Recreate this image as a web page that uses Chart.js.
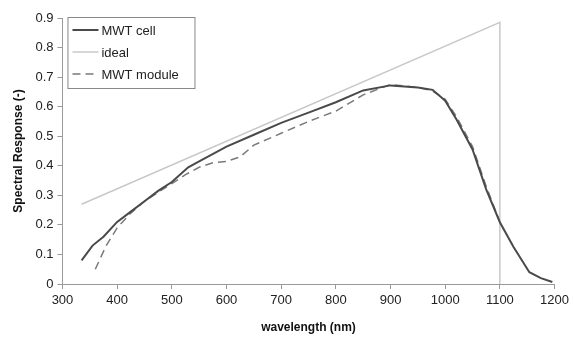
<!DOCTYPE html>
<html>
<head>
<meta charset="utf-8">
<script src="https://cdn.jsdelivr.net/npm/chart.js@4"></script>
<style>
  html, body { margin: 0; padding: 0; background: #fff; }
  #wrap { width: 573px; height: 343px; }
</style>
</head>
<body>
<div id="wrap"><canvas id="c"></canvas></div>
<script>
// wavelength (nm) and spectral response
const cellWl = [335, 355, 375, 400, 425, 450, 475, 500, 530, 550, 600, 650, 700, 750, 800, 850, 900, 950, 977, 1000, 1021, 1050, 1075, 1100, 1125, 1154, 1175, 1196];
const cellSr = [0.08, 0.13, 0.16, 0.21, 0.245, 0.28, 0.315, 0.345, 0.395, 0.415, 0.465, 0.505, 0.545, 0.58, 0.615, 0.655, 0.672, 0.665, 0.657, 0.62, 0.556, 0.455, 0.32, 0.209, 0.125, 0.04, 0.02, 0.007];

const moduleWl = [360, 380, 400, 425, 450, 475, 500, 525, 550, 575, 600, 625, 650, 700, 750, 800, 850, 900, 950, 975, 1000, 1021, 1050, 1075, 1100];
const moduleSr = [0.05, 0.13, 0.19, 0.24, 0.28, 0.31, 0.34, 0.37, 0.395, 0.41, 0.415, 0.43, 0.47, 0.51, 0.55, 0.585, 0.64, 0.675, 0.665, 0.655, 0.625, 0.565, 0.465, 0.33, 0.21];

const idealWl = [335, 1100, 1100];
const idealSr = [0.27, 0.885, 0];

const xTicks = [300, 400, 500, 600, 700, 800, 900, 1000, 1100, 1200];
const yTicks = [0, 0.1, 0.2, 0.3, 0.4, 0.5, 0.6, 0.7, 0.8, 0.9];

const toPts = (xs, ys) => xs.map((x, i) => ({ x: x, y: ys[i] }));

// legend box drawn inside the plot, top left
const boxLegend = {
  id: 'boxLegend',
  afterDraw(chart) {
    const ctx = chart.ctx;
    const a = chart.chartArea;
    const x0 = a.left + 5, y0 = a.top - 1, w = 127, h = 71;
    ctx.save();
    ctx.fillStyle = '#fff';
    ctx.fillRect(x0, y0, w, h);
    ctx.strokeStyle = '#888';
    ctx.lineWidth = 1;
    ctx.strokeRect(x0 + 0.5, y0 + 0.5, w, h);
    ctx.font = '13px "Liberation Sans", Arial, sans-serif';
    ctx.textBaseline = 'middle';
    chart.data.datasets.forEach((ds, i) => {
      const yy = y0 + 13 + i * 22;
      ctx.beginPath();
      ctx.strokeStyle = ds.borderColor;
      ctx.lineWidth = ds.borderWidth;
      ctx.setLineDash(ds.borderDash || []);
      ctx.moveTo(x0 + 5, yy);
      ctx.lineTo(x0 + 31, yy);
      ctx.stroke();
      ctx.setLineDash([]);
      ctx.fillStyle = '#222';
      ctx.fillText(ds.label, x0 + 34, yy + 1);
    });
    ctx.restore();
  }
};

new Chart(document.getElementById('c'), {
  type: 'scatter',
  data: {
    datasets: [
      {
        label: 'MWT cell',
        data: toPts(cellWl, cellSr),
        showLine: true,
        borderColor: '#4a4a4a',
        borderWidth: 2,
        pointRadius: 0,
        tension: 0
      },
      {
        label: 'ideal',
        data: toPts(idealWl, idealSr),
        showLine: true,
        borderColor: '#c8c8c8',
        borderWidth: 1.5,
        pointRadius: 0,
        tension: 0
      },
      {
        label: 'MWT module',
        data: toPts(moduleWl, moduleSr),
        showLine: true,
        borderColor: '#7a7a7a',
        borderWidth: 1.5,
        borderDash: [8, 5],
        pointRadius: 0,
        tension: 0
      }
    ]
  },
  options: {
    responsive: true,
    maintainAspectRatio: false,
    animation: false,
    layout: { padding: { top: 18, right: 18, left: 11, bottom: 8 } },
    plugins: {
      legend: { display: false },
      tooltip: { enabled: false }
    },
    scales: {
      x: {
        type: 'linear',
        min: 300,
        max: 1200,
        afterBuildTicks: s => { s.ticks = xTicks.map(v => ({ value: v })); },
        grid: { drawOnChartArea: false, drawTicks: true, tickLength: 5, color: '#999' },
        border: { color: '#999', width: 1 },
        ticks: {
          color: '#222',
          padding: 4,
          maxRotation: 0,
          callback: v => String(v),
          font: { family: '"Liberation Sans", Arial, sans-serif', size: 13 }
        },
        title: {
          display: true,
          text: 'wavelength (nm)',
          color: '#111',
          padding: { top: 8, bottom: 0 },
          font: { family: '"Liberation Sans", Arial, sans-serif', size: 12, weight: 'bold' }
        }
      },
      y: {
        min: 0,
        max: 0.9,
        afterBuildTicks: s => { s.ticks = yTicks.map(v => ({ value: v })); },
        grid: { drawOnChartArea: false, drawTicks: true, tickLength: 5, color: '#999' },
        border: { color: '#999', width: 1 },
        ticks: {
          color: '#222',
          padding: 4,
          callback: v => String(+v.toFixed(1)),
          font: { family: '"Liberation Sans", Arial, sans-serif', size: 13 }
        },
        title: {
          display: true,
          text: 'Spectral Response (-)',
          color: '#111',
          padding: { top: 0, bottom: 6 },
          font: { family: '"Liberation Sans", Arial, sans-serif', size: 12, weight: 'bold' }
        }
      }
    }
  },
  plugins: [boxLegend]
});
</script>
</body>
</html>
